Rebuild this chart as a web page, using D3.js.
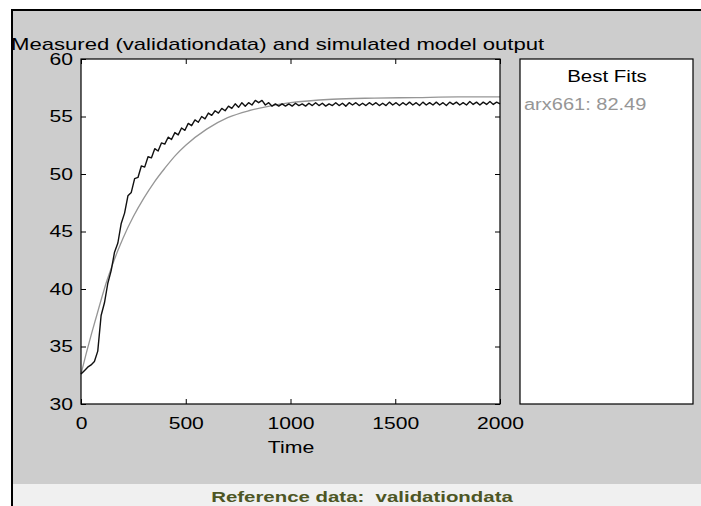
<!DOCTYPE html>
<html>
<head>
<meta charset="utf-8">
<style>
  body { margin: 0; background: #fff; }
  svg text { font-family: "Liberation Sans", Arial, sans-serif; white-space: pre; }
</style>
</head>
<body>
<svg id="container" width="701" height="506"></svg>

<script src="https://cdn.jsdelivr.net/npm/d3@7/dist/d3.min.js"></script>
<script>
  // measured output, sampled every 16 time units (0..2000)
  const sampleStep = 16
  const measured = [
    32.6, 32.9, 33.2, 33.4, 33.7, 34.6, 37.7, 38.8, 40.5, 41.6,
    43.2, 44.0, 45.7, 46.6, 48.1, 48.4, 49.6, 49.7, 50.7, 50.6,
    51.5, 51.4, 52.2, 52.0, 52.7, 52.6, 53.2, 53.0, 53.6, 53.4,
    54.0, 53.8, 54.4, 54.2, 54.7, 54.5, 55.0, 54.8, 55.3, 55.1,
    55.5, 55.3, 55.7, 55.5, 55.9, 55.7, 56.1, 55.8, 56.2, 55.9,
    56.2, 56.0, 56.4, 56.2, 56.4, 56.0, 56.2, 55.9, 56.1, 55.9,
    56.1, 55.9, 56.1, 55.9, 56.15, 55.95, 56.1, 55.9, 56.15, 55.95,
    56.2, 55.95, 56.15, 55.9, 56.1, 55.95, 56.2, 55.95, 56.15, 55.9,
    56.2, 56.0, 56.2, 55.95, 56.15, 55.95, 56.2, 56.0, 56.2, 55.95,
    56.15, 55.95, 56.25, 56.0, 56.2, 55.95, 56.2, 56.0, 56.25, 56.0,
    56.2, 55.95, 56.25, 56.0, 56.2, 56.0, 56.25, 56.0, 56.2, 55.95,
    56.25, 56.05, 56.25, 56.0, 56.2, 56.0, 56.3, 56.05, 56.25, 56.0,
    56.25, 56.05, 56.3, 56.05, 56.25, 56.1
  ]

  // simulated model output (arx661)
  const simTime = [0, 25, 50, 75, 100, 125, 150, 175, 200, 250, 300, 350, 400, 450, 500,
                   600, 700, 800, 900, 1000, 1200, 1400, 1600, 1800, 2000]
  const simulated = [32.6, 34.4, 36.1, 37.7, 39.3, 40.8, 42.1, 43.3, 44.4, 46.3, 47.9, 49.3, 50.5, 51.6, 52.5,
                     53.9, 54.9, 55.5, 55.9, 56.2, 56.5, 56.6, 56.65, 56.7, 56.7]

  const xTicks = [0, 500, 1000, 1500, 2000]
  const yTicks = [30, 35, 40, 45, 50, 55, 60]

  const titleText = 'Measured (validationdata) and simulated model output'
  const fitLabel = 'arx661: 82.49'
  const refLabel = 'Reference data:  validationdata'

  // the original font is wider than Liberation Sans, stretch texts to fit
  function stretch(sel, k) {
    sel.each(function() {
      const w = this.getComputedTextLength()
      if (w > 0) d3.select(this).attr('textLength', w * k).attr('lengthAdjust', 'spacingAndGlyphs')
    })
  }

  const svg = d3.select('#container')

  // figure background and frame
  svg.append('rect').attr('x', 12).attr('y', 10).attr('width', 689).attr('height', 474).attr('fill', '#cdcdcd')
  svg.append('rect').attr('x', 12).attr('y', 484).attr('width', 689).attr('height', 22).attr('fill', '#f0f0f0')
  svg.append('path').attr('d', 'M12,506V10H701').attr('fill', 'none').attr('stroke', '#000').attr('stroke-width', 2)

  const xScale = d3.scaleLinear().domain([0, 2000]).range([81, 500])
  const yScale = d3.scaleLinear().domain([30, 60]).range([404, 59])

  // plot area
  svg.append('rect')
    .attr('x', xScale(0)).attr('y', yScale(60))
    .attr('width', xScale(2000) - xScale(0)).attr('height', yScale(30) - yScale(60))
    .attr('fill', '#fff')

  const simData = simTime.map((t, i) => [t, simulated[i]])
  svg.append('path')
    .attr('d', d3.line().curve(d3.curveMonotoneX).x(d => xScale(d[0])).y(d => yScale(d[1]))(simData))
    .attr('fill', 'none').attr('stroke', '#969696').attr('stroke-width', 1.3)

  const measData = measured.map((v, i) => [i * sampleStep, v])
  svg.append('path')
    .attr('d', d3.line().x(d => xScale(d[0])).y(d => yScale(d[1]))(measData))
    .attr('fill', 'none').attr('stroke', '#111').attr('stroke-width', 1.4)
    .attr('stroke-linejoin', 'round')

  // axes, ticks inward on all four sides
  const styleAxis = g => {
    g.selectAll('.domain').remove()
    g.selectAll('line').attr('stroke', '#000')
    g.selectAll('text').attr('font-family', '"Liberation Sans", Arial, sans-serif')
      .attr('font-size', 17).attr('fill', '#000')
  }
  const fmt = d3.format('d')
  const xAxisG = svg.append('g').attr('transform', `translate(0,${yScale(30)})`)
    .call(d3.axisBottom(xScale).tickValues(xTicks).tickFormat(fmt).tickSize(-5).tickSizeOuter(0).tickPadding(13))
    .call(styleAxis)
  svg.append('g').attr('transform', `translate(0,${yScale(60)})`)
    .call(d3.axisTop(xScale).tickValues(xTicks).tickSize(-5).tickSizeOuter(0).tickFormat(''))
    .call(styleAxis)
  const yAxisG = svg.append('g').attr('transform', `translate(${xScale(0)},0)`)
    .call(d3.axisLeft(yScale).tickValues(yTicks).tickFormat(fmt).tickSize(-5).tickSizeOuter(0).tickPadding(8))
    .call(styleAxis)
  svg.append('g').attr('transform', `translate(${xScale(2000)},0)`)
    .call(d3.axisRight(yScale).tickValues(yTicks).tickSize(-5).tickSizeOuter(0).tickFormat(''))
    .call(styleAxis)
  stretch(xAxisG.selectAll('text'), 1.24)
  stretch(yAxisG.selectAll('text'), 1.24)

  svg.append('rect')
    .attr('x', xScale(0)).attr('y', yScale(60))
    .attr('width', xScale(2000) - xScale(0)).attr('height', yScale(30) - yScale(60))
    .attr('fill', 'none').attr('stroke', '#000').attr('stroke-width', 1.2)

  // title and axis label
  svg.append('text').attr('x', 11).attr('y', 50)
    .attr('font-size', 17).attr('fill', '#000')
    .text(titleText)
    .call(stretch, 1.3)
  svg.append('text').attr('x', 291).attr('y', 453).attr('text-anchor', 'middle')
    .attr('font-size', 17).attr('fill', '#000')
    .text('Time')
    .call(stretch, 1.25)

  // best fits panel
  svg.append('rect').attr('x', 520).attr('y', 59).attr('width', 173).attr('height', 345)
    .attr('fill', '#fff').attr('stroke', '#000').attr('stroke-width', 1.2)
  svg.append('text').attr('x', 607).attr('y', 82).attr('text-anchor', 'middle')
    .attr('font-size', 16).attr('fill', '#000')
    .text('Best Fits')
    .call(stretch, 1.28)
  svg.append('text').attr('x', 524).attr('y', 110)
    .attr('font-size', 16).attr('fill', '#969696')
    .text(fitLabel)
    .call(stretch, 1.25)

  // footer
  svg.append('text').attr('x', 362).attr('y', 502).attr('text-anchor', 'middle')
    .attr('font-size', 15).attr('font-weight', 'bold').attr('fill', '#4d5624')
    .text(refLabel)
    .call(stretch, 1.36)
</script>
</body>
</html>
